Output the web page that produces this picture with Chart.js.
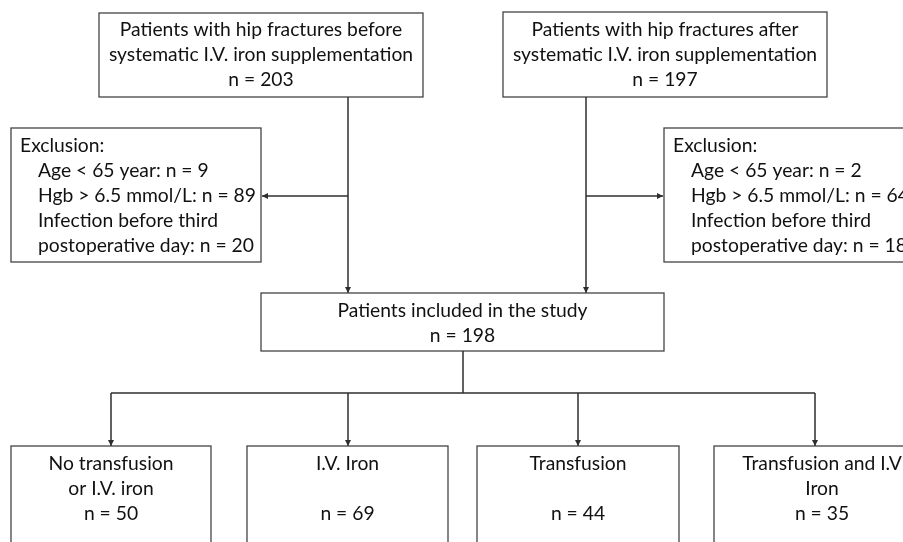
<!DOCTYPE html>
<html lang="en">
<head>
  <meta charset="UTF-8">
  <title>Patient flow chart</title>
  <style>
    body{margin:0;background:#fff;}
    .wrap{width:903px;height:542px;}
  </style>
</head>
<body>
  <div class="wrap">
    <canvas id="flow" width="903" height="542"></canvas>
  </div>

  <script src="https://cdn.jsdelivr.net/npm/chart.js"></script>
  <script type="text/javascript">
    // data
    const cohortLabels = ['Patients with hip fractures before\nsystematic I.V. iron supplementation',
                          'Patients with hip fractures after\nsystematic I.V. iron supplementation'];
    const cohortCounts = [203, 197];
    const exclusionReasons = ['Age < 65 year', 'Hgb > 6.5 mmol/L', 'Infection before third\npostoperative day'];
    const exclusionBefore = [9, 89, 20];
    const exclusionAfter = [2, 64, 18];
    const includedLabel = 'Patients included in the study';
    const includedCount = 198;
    const groupLabels = ['No transfusion\nor I.V. iron', 'I.V. Iron\n', 'Transfusion\n', 'Transfusion and I.V\nIron'];
    const groupCounts = [50, 69, 44, 35];

    // layout in chart units (x: 0-903, y: 0-542 top-down)
    const layout = {
      cohort: [{x0:99, x1:423, y0:13, y1:97, stem:348}, {x0:503, x1:827, y0:12, y1:97, stem:586}],
      exclusion: [{x0:11, x1:261, y0:128, y1:262, side:'left'}, {x0:664, x1:914, y0:128, y1:262, side:'right'}],
      branchY: 196,
      included: {x0:261, x1:664, y0:293, y1:351, stem:463},
      splitY: 393,
      groups: [{x0:11, x1:211, arrow:111}, {x0:247, x1:448, arrow:348}, {x0:477, x1:679, arrow:578}, {x0:714, x1:930, arrow:815}],
      groupTop: 446, groupBottom: 570
    };

    const FONT = '19.3px Lato, "Open Sans", sans-serif';
    const INK = '#111111';
    const LINE = '#2e2e2e';

    const flowPlugin = {
      id: 'flow',
      afterDraw(chart){
        const ctx = chart.ctx;
        const sx = chart.scales.x, sy = chart.scales.y;
        const px = v => sx.getPixelForValue(v);
        const py = v => sy.getPixelForValue(v);

        function box(b, y0, y1){
          ctx.save();
          ctx.strokeStyle = '#444';
          ctx.lineWidth = 1.3;
          ctx.strokeRect(px(b.x0), py(y0), px(b.x1) - px(b.x0), py(y1) - py(y0));
          ctx.restore();
        }
        function seg(x0, y0, x1, y1){
          ctx.save();
          ctx.strokeStyle = LINE;
          ctx.lineWidth = 1.5;
          ctx.beginPath();
          ctx.moveTo(px(x0), py(y0));
          ctx.lineTo(px(x1), py(y1));
          ctx.stroke();
          ctx.restore();
        }
        function arrow(x0, y0, x1, y1){
          seg(x0, y0, x1, y1);
          const ax = px(x1), ay = py(y1);
          const ang = Math.atan2(py(y1) - py(y0), px(x1) - px(x0));
          ctx.save();
          ctx.fillStyle = LINE;
          ctx.translate(ax, ay);
          ctx.rotate(ang);
          ctx.beginPath();
          ctx.moveTo(0, 0);
          ctx.lineTo(-6, -3);
          ctx.lineTo(-6, 3);
          ctx.closePath();
          ctx.fill();
          ctx.restore();
        }
        function centered(lines, cx, firstY, step){
          ctx.save();
          ctx.font = FONT;
          ctx.fillStyle = INK;
          ctx.textAlign = 'center';
          ctx.textBaseline = 'middle';
          lines.forEach((t, i) => ctx.fillText(t, px(cx), py(firstY + i * step)));
          ctx.restore();
        }

        // top cohorts
        layout.cohort.forEach((b, i) => {
          box(b, b.y0, b.y1);
          const lines = cohortLabels[i].split('\n').concat(['n = ' + cohortCounts[i]]);
          centered(lines, (b.x0 + b.x1) / 2, 30, 25);
          arrow(b.stem, b.y1, b.stem, layout.included.y0);
        });

        // exclusion boxes
        [exclusionBefore, exclusionAfter].forEach((counts, i) => {
          const e = layout.exclusion[i];
          box(e, e.y0, e.y1);
          const lines = [];
          exclusionReasons.forEach((r, k) => {
            const parts = r.split('\n');
            parts[parts.length - 1] += ': n = ' + counts[k];
            parts.forEach(p => lines.push(p));
          });
          ctx.save();
          ctx.font = FONT;
          ctx.fillStyle = INK;
          ctx.textBaseline = 'middle';
          ctx.fillText('Exclusion:', px(e.x0 + 9), py(146));
          lines.forEach((t, k) => ctx.fillText(t, px(e.x0 + 27), py(171 + k * 24.8)));
          ctx.restore();
          const stem = layout.cohort[i].stem;
          if (e.side === 'left') arrow(stem, layout.branchY, e.x1 + 1, layout.branchY);
          else arrow(stem, layout.branchY, e.x0 - 1, layout.branchY);
        });

        // included
        const inc = layout.included;
        box(inc, inc.y0, inc.y1);
        centered([includedLabel, 'n = ' + includedCount], (inc.x0 + inc.x1) / 2, 311, 24.5);
        seg(inc.stem, inc.y1, inc.stem, layout.splitY);
        const g0 = layout.groups[0].arrow, gN = layout.groups[layout.groups.length - 1].arrow;
        seg(g0, layout.splitY, gN, layout.splitY);

        // groups
        layout.groups.forEach((g, i) => {
          arrow(g.arrow, layout.splitY, g.arrow, layout.groupTop);
          box(g, layout.groupTop, layout.groupBottom);
          const lines = groupLabels[i].split('\n').concat(['n = ' + groupCounts[i]]);
          centered(lines, (g.x0 + g.x1) / 2, 464, 25);
        });
      }
    };

    // node centres as invisible points so the scales carry the layout
    const nodePoints = [].concat(
      layout.cohort.map(b => ({x:(b.x0 + b.x1) / 2, y:(b.y0 + b.y1) / 2})),
      [{x:(layout.included.x0 + layout.included.x1) / 2, y:(layout.included.y0 + layout.included.y1) / 2}],
      layout.groups.map(g => ({x:(g.x0 + g.x1) / 2, y:(layout.groupTop + layout.groupBottom) / 2}))
    );

    new Chart(document.getElementById('flow'), {
      type: 'scatter',
      data: {
        datasets: [{ label: 'nodes', data: nodePoints, pointRadius: 0, pointHoverRadius: 0 }]
      },
      options: {
        responsive: false,
        animation: false,
        layout: { padding: 0 },
        plugins: { legend: { display: false }, tooltip: { enabled: false } },
        events: [],
        scales: {
          x: { type: 'linear', min: 0, max: 903, display: false },
          y: { type: 'linear', min: 0, max: 542, reverse: true, display: false }
        }
      },
      plugins: [flowPlugin]
    });
  </script>
</body>
</html>
